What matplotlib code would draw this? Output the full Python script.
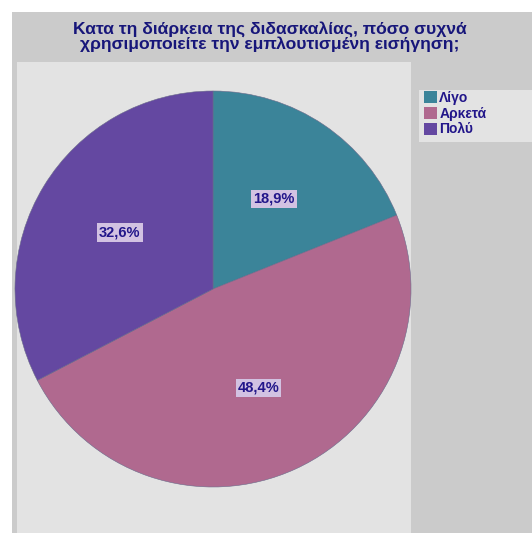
import matplotlib
matplotlib.use("Agg")
import matplotlib.pyplot as plt
from matplotlib.patches import Rectangle, Patch

categories = ["Λίγο", "Αρκετά", "Πολύ"]
shares = [18.9, 48.4, 32.6]
colors = ["#3b8499", "#b0698f", "#6448a1"]
title = "Κατα τη διάρκεια της διδασκαλίας, πόσο συχνά\nχρησιμοποιείτε την εμπλουτισμένη εισήγηση;"

W, H = 532, 533
fig = plt.figure(figsize=(W / 100, H / 100), dpi=100, facecolor="white")
plt.rcParams["font.family"] = ["Liberation Sans", "DejaVu Sans"]


def box(x0, y0, x1, y1):
    # pixel box (top-left origin) -> figure fraction rect
    return (x0 / W, 1 - y1 / H, (x1 - x0) / W, (y1 - y0) / H)


def panel(x0, y0, x1, y1, color):
    x, y, w, h = box(x0, y0, x1, y1)
    fig.patches.append(Rectangle((x, y), w, h, transform=fig.transFigure,
                                 facecolor=color, edgecolor="none", zorder=-2))


# outer grey panel, lighter plot area and legend background
panel(12, 12, W, H, "#cbcbcb")
panel(17, 62, 411, H, "#e3e3e3")
panel(419, 90, W, 142, "#e3e3e3")

fig.text(270 / W, 1 - 37 / H, title, ha="center", va="center",
         fontsize=12.6, fontweight="bold", color="#17167a", linespacing=0.95)

ax = fig.add_axes(box(15, 91, 411, 487))
ax.set_zorder(2)
ax.set_facecolor("none")
wedges, texts, autotexts = ax.pie(
    shares, colors=colors, startangle=90, counterclock=False,
    autopct=lambda p: f"{p:.1f}".replace(".", ",") + "%", pctdistance=0.55,
    wedgeprops=dict(linewidth=0.4, edgecolor="#6a6a8a"),
)
for t in autotexts:
    t.set_color("#22168a")
    t.set_fontsize(10.5)
    t.set_fontweight("bold")
    t.set_bbox(dict(facecolor="#d2c2e2", edgecolor="none", pad=1.5))
ax.set_xlim(-1.0, 1.0)
ax.set_ylim(-1.0, 1.0)
ax.set_aspect("equal")
ax.axis("off")

handles = [Patch(facecolor=c, edgecolor="none") for c in colors]
leg = fig.legend(handles, categories, loc="upper left",
                 bbox_to_anchor=(424 / W, 1 - 91 / H), frameon=False,
                 handlelength=0.95, handleheight=0.95,
                 handletextpad=0.15, labelspacing=0.12, borderpad=0.0,
                 borderaxespad=0, prop=dict(size=10, weight="bold"))
leg.set_zorder(3)
for t in leg.get_texts():
    t.set_color("#22168a")

fig.savefig("out.png", dpi=100, facecolor="white")
